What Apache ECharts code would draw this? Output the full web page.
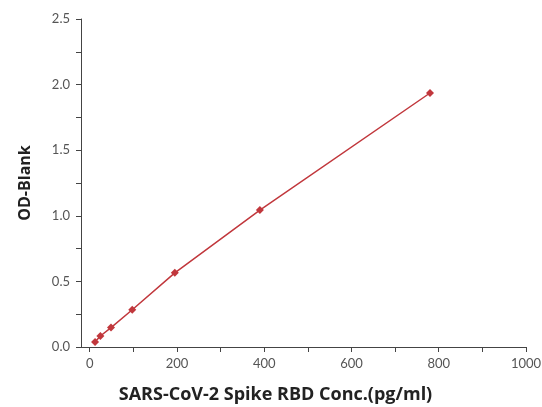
<!DOCTYPE html>
<html><head><meta charset="utf-8">
<script src="https://cdn.jsdelivr.net/npm/echarts@6/dist/echarts.min.js"></script>
<style>html,body{margin:0;padding:0;background:#fff}#c{width:542px;height:407px}</style>
</head><body><div id="c"></div>
<script>
const concentrations = [12.2, 24.4, 48.8, 97.5, 195, 390, 780];
const odValues = [0.038, 0.084, 0.148, 0.284, 0.565, 1.044, 1.936];
const xTickValues = [0,100,200,300,400,500,600,700,800,900,1000];
const xLabelValues = [0,200,400,600,800,1000];
const yLabelValues = [0,0.5,1.0,1.5,2.0,2.5];

const chart = echarts.init(document.getElementById('c'));
const font = 'Lato, "Open Sans", sans-serif';
const titleFont = '"Open Sans", Lato, sans-serif';
chart.setOption({
  animation: false,
  grid: {left: 81, right: 16, top: 19, bottom: 60, outerBoundsMode: 'none', containLabel: false},
  xAxis: {
    type: 'value', min: -20, max: 1000,
    name: 'SARS-CoV-2 Spike RBD Conc.(pg/ml)', nameLocation: 'middle', nameGap: 39,
    nameTextStyle: {fontFamily: titleFont, fontWeight: 'bold', fontSize: 18, color: '#222', padding: [0, 56, 0, 0]},
    axisLine: {show: true, onZero: false, lineStyle: {color: '#444', width: 1}},
    axisTick: {show: true, customValues: xTickValues, length: 5, lineStyle: {color: '#444'}},
    axisLabel: {customValues: xLabelValues, formatter: v => String(v), fontFamily: font, fontSize: 13, color: '#555', margin: 10},
    splitLine: {show: false}
  },
  yAxis: {
    type: 'value', min: 0, max: 2.5, interval: 0.25,
    name: 'OD-Blank', nameLocation: 'middle', nameGap: 48,
    nameTextStyle: {fontFamily: titleFont, fontWeight: 'bold', fontSize: 16, color: '#222'},
    axisLine: {show: true, onZero: false, lineStyle: {color: '#444', width: 1}},
    axisTick: {show: true, length: 5, lineStyle: {color: '#444'}},
    axisLabel: {customValues: yLabelValues, formatter: v => v.toFixed(1), fontFamily: font, fontSize: 13, color: '#555', margin: 11},
    splitLine: {show: false}
  },
  series: [{
    type: 'line', smooth: false,
    data: concentrations.map((c, i) => [c, odValues[i]]),
    symbol: 'diamond', symbolSize: 8,
    itemStyle: {color: '#c1373c'},
    lineStyle: {color: '#c1373c', width: 1.5}
  }]
});
</script></body></html>
